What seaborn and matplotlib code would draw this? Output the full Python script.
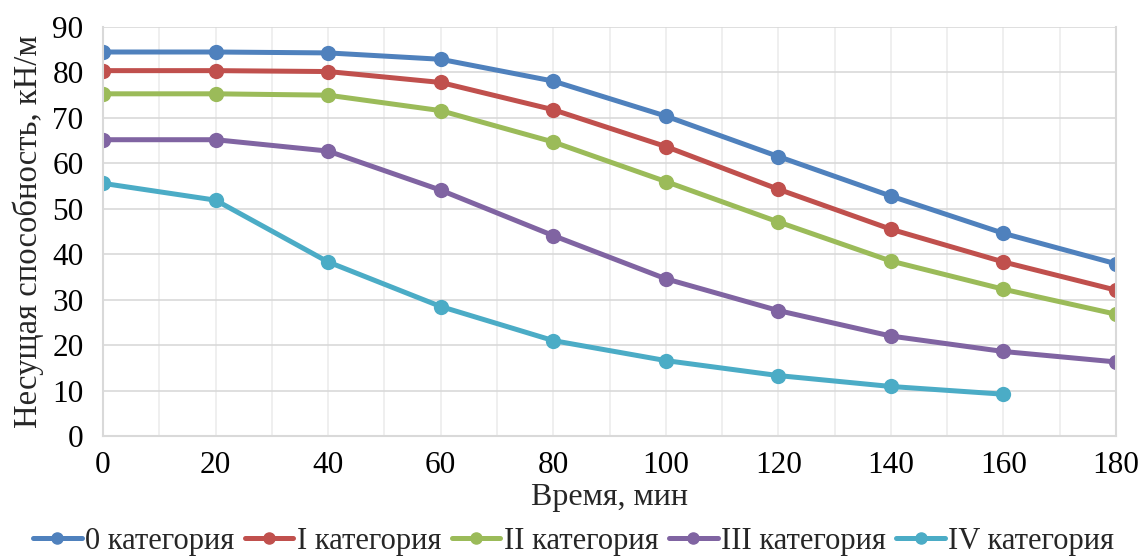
import numpy as np
import pandas as pd
import matplotlib
matplotlib.use("Agg")
import matplotlib.pyplot as plt
import seaborn as sns

time_min = [0, 20, 40, 60, 80, 100, 120, 140, 160, 180]
cat0 = [84.5, 84.5, 84.3, 82.9, 78.1, 70.4, 61.5, 52.8, 44.6, 37.9]
cat1 = [80.4, 80.4, 80.2, 77.8, 71.8, 63.7, 54.3, 45.5, 38.3, 32.1]
cat2 = [75.3, 75.3, 75.0, 71.6, 64.7, 56.0, 47.1, 38.5, 32.3, 26.8]
cat3 = [65.2, 65.2, 62.7, 54.1, 44.1, 34.6, 27.6, 22.0, 18.6, 16.3]
cat4 = [55.6, 51.9, 38.3, 28.5, 21.0, 16.6, 13.3, 10.9, 9.2]
labels = ["0 категория", "I категория", "II категория", "III категория", "IV категория"]
colors = ["#4F81BD", "#C0504D", "#9BBB59", "#8064A2", "#4BACC6"]

series = [cat0, cat1, cat2, cat3, cat4]
rows = []
for lab, vals in zip(labels, series):
    for t, v in zip(time_min, vals):
        rows.append({"t": t, "v": v, "cat": lab})
df = pd.DataFrame(rows)

sns.set_theme(style="white")
plt.rcParams['font.family'] = ['Liberation Serif', 'DejaVu Serif']

fig = plt.figure(figsize=(11.47, 5.58), dpi=100)
ax = fig.add_axes([0.0898, 0.2186, 0.8832, 0.733])

sns.lineplot(data=df, x="t", y="v", hue="cat", hue_order=labels,
             palette=colors, marker="o", markersize=11, linewidth=3.6,
             markeredgewidth=0, ax=ax, legend=False)

ax.set_xlim(0, 180)
ax.set_ylim(0, 90)
ax.set_xticks(np.arange(0, 181, 20))
ax.set_xticks(np.arange(0, 181, 10), minor=True)
ax.set_yticks(np.arange(0, 91, 10))
ax.grid(True, which="both", axis="x", color="#ececec", linewidth=1.2)
ax.grid(True, which="major", axis="y", color="#d9d9d9", linewidth=1.2)
ax.set_axisbelow(True)
for side in ["left", "bottom", "right"]:
    ax.spines[side].set_color("#d9d9d9")
    ax.spines[side].set_linewidth(1.5)
ax.spines["top"].set_visible(False)
ax.tick_params(axis="both", which="both", length=0, labelsize=22.5, colors="black")
ax.tick_params(axis="y", pad=14)
ax.tick_params(axis="x", pad=11)
ax.set_xlabel("Время, мин", fontsize=23, labelpad=2)
ax.set_ylabel("Несущая способность, кН/м", fontsize=23.5, labelpad=6)

handles = [plt.Line2D([], [], color=c, linewidth=3.6, marker="o", markersize=8) for c in colors]
fig.legend(handles, labels, loc="center", bbox_to_anchor=(0.5, 0.03), ncol=5,
           frameon=False, fontsize=22, handlelength=1.6, handletextpad=0.1,
           columnspacing=0.35, borderaxespad=0)

fig.savefig("out.png", dpi=100)
